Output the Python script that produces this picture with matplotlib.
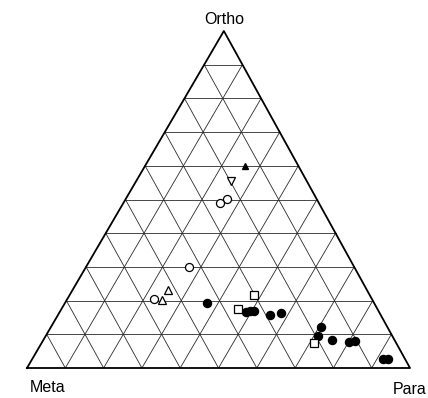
import numpy as np
import matplotlib
matplotlib.use("Agg")
import matplotlib.pyplot as plt

plt.rcParams["font.family"] = ["Liberation Sans", "DejaVu Sans"]

# isomer fractions (ortho, para); meta = 1 - ortho - para
filled_circle_o = [0.193, 0.166, 0.168, 0.170, 0.156, 0.163, 0.122, 0.094, 0.084, 0.077, 0.079, 0.028, 0.027]
filled_circle_p = [0.370, 0.486, 0.497, 0.506, 0.553, 0.579, 0.705, 0.712, 0.753, 0.801, 0.816, 0.914, 0.928]
open_circle_o = [0.502, 0.489, 0.301, 0.206]
open_circle_p = [0.265, 0.253, 0.267, 0.227]
open_square_o = [0.217, 0.175, 0.074]
open_square_p = [0.482, 0.460, 0.711]
open_tri_o = [0.232, 0.203]
open_tri_p = [0.248, 0.247]
open_vtri_o = [0.555]
open_vtri_p = [0.247]
filled_tri_o = [0.598]
filled_tri_p = [0.263]

H = np.sqrt(3) / 2
AX = 0.514  # horizontal position of the ortho apex


def xy(o, p):
    o = np.asarray(o, dtype=float)
    p = np.asarray(p, dtype=float)
    return p + o * AX, o * H


fig = plt.figure(figsize=(4.28, 3.98), dpi=100)
ax = fig.add_axes([27 / 428, 30 / 398, 383 / 428, 337 / 398])
ax.set_xlim(0, 1)
ax.set_ylim(0, H)
ax.axis("off")

gc = dict(color="#2a2a2a", lw=0.6, zorder=1)
for k in range(1, 10):
    f = k / 10
    # constant ortho
    x, y = xy([f, f], [0, 1 - f])
    ax.plot(x, y, **gc)
    # constant para
    x, y = xy([0, 1 - f], [f, f])
    ax.plot(x, y, **gc)
    # constant meta
    x, y = xy([0, 1 - f], [1 - f, 0])
    ax.plot(x, y, **gc)

x, y = xy([0, 0, 1, 0], [0, 1, 0, 0])
ax.plot(x, y, color="black", lw=1.3, zorder=2, clip_on=False)

ms = 5.8
x, y = xy(filled_circle_o, filled_circle_p)
ax.plot(x, y, "o", ms=ms, mfc="black", mec="black", zorder=3, clip_on=False)
x, y = xy(open_circle_o, open_circle_p)
ax.plot(x, y, "o", ms=ms, mfc="white", mec="black", mew=0.9, zorder=3)
x, y = xy(open_square_o, open_square_p)
ax.plot(x, y, "s", ms=5.5, mfc="white", mec="black", mew=0.9, zorder=3)
x, y = xy(open_tri_o, open_tri_p)
ax.plot(x, y, "^", ms=6, mfc="white", mec="black", mew=0.9, zorder=3)
x, y = xy(open_vtri_o, open_vtri_p)
ax.plot(x, y, "v", ms=6, mfc="white", mec="black", mew=0.9, zorder=3)
x, y = xy(filled_tri_o, filled_tri_p)
ax.plot(x, y, "^", ms=4.5, mfc="black", mec="black", zorder=3)

fig.text(224 / 428, 1 - 20 / 398, "Ortho", ha="center", va="center", fontsize=11.5)
fig.text(30 / 428, 1 - 388 / 398, "Meta", ha="left", va="center", fontsize=11.5)
fig.text(426 / 428, 1 - 390 / 398, "Para", ha="right", va="center", fontsize=11.5)

fig.savefig("out.png", dpi=100)
